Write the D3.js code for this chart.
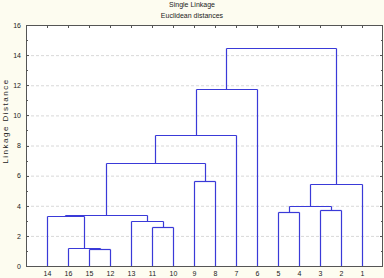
<!DOCTYPE html>
<html>
<head>
<meta charset="utf-8">
<script src="https://cdn.jsdelivr.net/npm/d3@7"></script>
<style>
  body { margin: 0; background: #fdfcf0; }
  text { font-family: "Liberation Sans", Arial, sans-serif; fill: #222; }
</style>
</head>
<body>
<div id="chart"></div>
<script>
// Leaf order along the x axis
const leaves = ['14', '16', '15', '12', '13', '11', '10', '9', '8', '7', '6', '5', '4', '3', '2', '1'];

// Merge table: [left, right, linkage distance]; clusters are named C1, C2, ...
const merges = [
    ['15', '12', 1.10],   // C1
    ['16', 'C1', 1.21],   // C2
    ['11', '10', 2.57],   // C3
    ['13', 'C3', 2.96],   // C4
    ['14', 'C2', 3.29],   // C5
    ['C5', 'C4', 3.36],   // C6
    ['5', '4', 3.58],     // C7
    ['3', '2', 3.75],     // C8
    ['C7', 'C8', 3.98],   // C9
    ['C9', '1', 5.42],    // C10
    ['9', '8', 5.66],     // C11
    ['C6', 'C11', 6.81],  // C12
    ['C12', '7', 8.69],   // C13
    ['C13', '6', 11.74],  // C14
    ['C14', 'C10', 14.46] // C15
];

const yTicks = [0, 2, 4, 6, 8, 10, 12, 14, 16];

const width = 384, height = 278;
const margin = { top: 25, right: 1, bottom: 12, left: 26 };

const svg = d3.select('#chart').append('svg')
    .attr('width', width)
    .attr('height', height);

svg.append('rect')
    .attr('width', width).attr('height', height)
    .attr('fill', '#fdfcf0');

const x = d3.scalePoint()
    .domain(leaves)
    .range([margin.left, width - margin.right])
    .padding(1);

const y = d3.scaleLinear()
    .domain([0, 16])
    .range([height - margin.bottom, margin.top]);

// Plot area
svg.append('rect')
    .attr('x', margin.left).attr('y', margin.top)
    .attr('width', width - margin.right - margin.left)
    .attr('height', height - margin.bottom - margin.top)
    .attr('fill', '#fff');

// Horizontal dashed grid
svg.append('g')
    .selectAll('line')
    .data(yTicks.filter(d => d > 0 && d < 16))
    .join('line')
    .attr('x1', margin.left).attr('x2', width - margin.right)
    .attr('y1', d => y(d) + 0.5).attr('y2', d => y(d) + 0.5)
    .attr('stroke', '#d8d8d8')
    .attr('stroke-dasharray', '3,2');

// Build cluster positions from the merge table
const pos = {};
leaves.forEach(l => { pos[l] = { x: x(l), h: 0 }; });

const segs = [];
merges.forEach((m, i) => {
    const [a, b, h] = m;
    const pa = pos[a], pb = pos[b];
    segs.push([pa.x, pa.h, pa.x, h]);
    segs.push([pb.x, pb.h, pb.x, h]);
    segs.push([pa.x, h, pb.x, h]);
    pos['C' + (i + 1)] = { x: (pa.x + pb.x) / 2, h: h };
});

svg.append('g')
    .selectAll('line')
    .data(segs)
    .join('line')
    .attr('x1', d => Math.round(d[0]) + 0.5)
    .attr('x2', d => Math.round(d[2]) + 0.5)
    .attr('y1', d => Math.round(y(d[1])) + 0.5)
    .attr('y2', d => Math.round(y(d[3])) + 0.5)
    .attr('stroke', '#3a3ad8')
    .attr('stroke-width', 1.2);

// Axes
const left = svg.append('g')
    .attr('transform', `translate(${margin.left},0)`)
    .call(d3.axisLeft(y).tickValues(yTicks).tickSize(0).tickPadding(5).tickFormat(d3.format('d')));
left.select('.domain').remove();
left.selectAll('text').style('font-size', '7px');

// Inner tick marks on left / right
const minor = d3.range(0, 17);
svg.append('g').selectAll('line')
    .data(minor)
    .join('line')
    .attr('x1', margin.left).attr('x2', d => margin.left + (d % 2 ? 2 : 3))
    .attr('y1', d => Math.round(y(d)) + 0.5).attr('y2', d => Math.round(y(d)) + 0.5)
    .attr('stroke', '#555');
svg.append('g').selectAll('line')
    .data(minor)
    .join('line')
    .attr('x1', width - margin.right).attr('x2', d => width - margin.right - (d % 2 ? 2 : 3))
    .attr('y1', d => Math.round(y(d)) + 0.5).attr('y2', d => Math.round(y(d)) + 0.5)
    .attr('stroke', '#555');

// Top tick marks at leaf positions
svg.append('g').selectAll('line')
    .data(leaves)
    .join('line')
    .attr('x1', d => Math.round(x(d)) + 0.5).attr('x2', d => Math.round(x(d)) + 0.5)
    .attr('y1', margin.top).attr('y2', margin.top + 3)
    .attr('stroke', '#555');

const bottom = svg.append('g')
    .attr('transform', `translate(0,${height - margin.bottom})`)
    .call(d3.axisBottom(x).tickSize(0).tickPadding(5));
bottom.select('.domain').remove();
bottom.selectAll('text').style('font-size', '7px');

// Frame
svg.append('rect')
    .attr('x', margin.left + 0.5).attr('y', margin.top + 0.5)
    .attr('width', width - margin.right - margin.left - 1)
    .attr('height', height - margin.bottom - margin.top)
    .attr('fill', 'none')
    .attr('stroke', '#555');

// Titles
svg.append('text')
    .attr('x', 192).attr('y', 7)
    .attr('text-anchor', 'middle')
    .style('font-size', '7px')
    .text('Single Linkage');
svg.append('text')
    .attr('x', 192).attr('y', 17.5)
    .attr('text-anchor', 'middle')
    .style('font-size', '7px')
    .text('Euclidean distances');

svg.append('text')
    .attr('transform', 'translate(8,121) rotate(-90)')
    .attr('text-anchor', 'middle')
    .style('font-size', '8px')
    .style('letter-spacing', '1.5px')
    .text('Linkage Distance');
</script>
</body>
</html>
